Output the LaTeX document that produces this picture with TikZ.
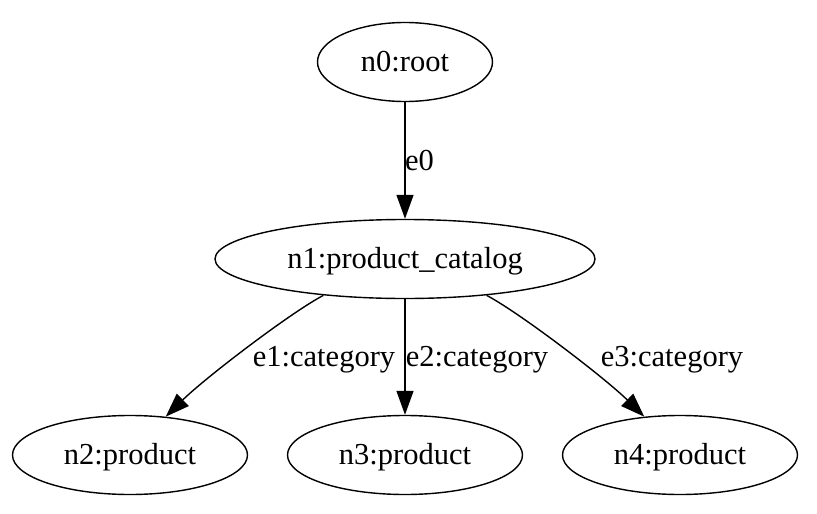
\documentclass[tikz,border=0pt]{standalone}
\usepackage{fontspec}
\setmainfont{Liberation Serif}
\usetikzlibrary{shapes.geometric,arrows.meta}

\tikzset{
  ent/.style={draw, ellipse, line width=1.4pt, inner sep=0pt,
    minimum height=79pt, text height=20pt, text depth=2pt},
  edge/.style={line width=1.4pt, -{Triangle[length=24pt,width=17pt]}},
  lbl/.style={inner sep=0pt, anchor=base}
}

\begin{document}
\begin{tikzpicture}[x=1pt,y=-1pt,font=\fontsize{30.5}{36}\selectfont]

\useasboundingbox (0,0) rectangle (817,514);
  \node[ent, minimum width=175pt] (n0) at (405,62) {n0:root};
  \node[ent, minimum width=380pt] (n1) at (405,259) {n1:product\_catalog};
  \node[ent, minimum width=235pt] (n2) at (130,455) {n2:product};
  \node[ent, minimum width=235pt] (n3) at (405,455) {n3:product};
  \node[ent, minimum width=235pt] (n4) at (680,455) {n4:product};
  \draw[edge] (n0) -- (n1);
  \draw[edge] (n1.204) .. controls (290,313) and (205,378) .. (n2.47);
  \draw[edge] (n1) -- (n3);
  \draw[edge] (n1.336) .. controls (520,313) and (605,378) .. (n4.133);
  \node[lbl, anchor=base west] (l0) at (405,170) {e0};
  \node[lbl] (l1) at (324,366) {e1:category};
  \node[lbl] (l2) at (477,366) {e2:category};
  \node[lbl] (l3) at (672,366) {e3:category};
 \end{tikzpicture}
\end{document}
